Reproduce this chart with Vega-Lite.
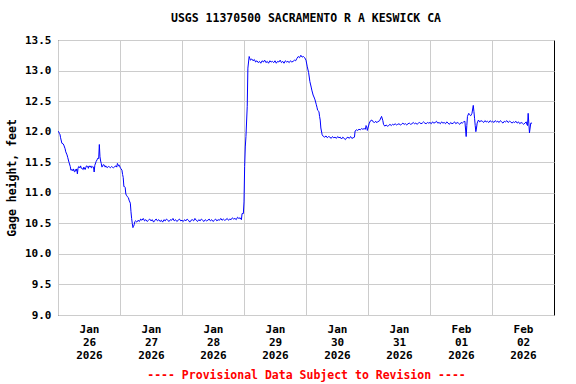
{
  "$schema": "https://vega.github.io/schema/vega-lite/v6.json",
  "width": 496,
  "height": 275,
  "autosize": "none",
  "padding": {"left": 58, "top": 40, "right": 22, "bottom": 69},
  "background": "white",
  "title": {"text": "USGS 11370500 SACRAMENTO R A KESWICK CA", "font": "DejaVu Sans Mono", "fontSize": 11.5, "fontWeight": "bold", "color": "black", "anchor": "middle", "offset": 10},
  "data": {"values": [
    {"t":"2026-01-26T00:00","v":12.01},{"t":"2026-01-26T00:15","v":12.00},{"t":"2026-01-26T00:30","v":11.97},{"t":"2026-01-26T00:45","v":11.96},
    {"t":"2026-01-26T01:00","v":11.90},{"t":"2026-01-26T01:30","v":11.81},{"t":"2026-01-26T02:00","v":11.80},{"t":"2026-01-26T02:15","v":11.78},
    {"t":"2026-01-26T02:45","v":11.72},{"t":"2026-01-26T03:00","v":11.67},{"t":"2026-01-26T03:30","v":11.62},{"t":"2026-01-26T03:45","v":11.58},
    {"t":"2026-01-26T04:15","v":11.50},{"t":"2026-01-26T04:45","v":11.43},{"t":"2026-01-26T05:00","v":11.37},{"t":"2026-01-26T05:30","v":11.38},
    {"t":"2026-01-26T05:45","v":11.36},{"t":"2026-01-26T06:00","v":11.39},{"t":"2026-01-26T06:15","v":11.35},{"t":"2026-01-26T06:30","v":11.34},
    {"t":"2026-01-26T06:45","v":11.38},{"t":"2026-01-26T07:00","v":11.36},{"t":"2026-01-26T07:15","v":11.39},{"t":"2026-01-26T07:30","v":11.31},
    {"t":"2026-01-26T07:45","v":11.40},{"t":"2026-01-26T08:00","v":11.43},{"t":"2026-01-26T08:30","v":11.41},{"t":"2026-01-26T08:45","v":11.44},
    {"t":"2026-01-26T09:00","v":11.40},{"t":"2026-01-26T09:15","v":11.40},{"t":"2026-01-26T09:45","v":11.38},{"t":"2026-01-26T10:00","v":11.42},
    {"t":"2026-01-26T10:30","v":11.38},{"t":"2026-01-26T10:45","v":11.41},{"t":"2026-01-26T11:00","v":11.44},{"t":"2026-01-26T11:30","v":11.43},
    {"t":"2026-01-26T11:45","v":11.40},{"t":"2026-01-26T12:00","v":11.44},{"t":"2026-01-26T12:30","v":11.42},{"t":"2026-01-26T12:45","v":11.44},
    {"t":"2026-01-26T13:00","v":11.41},{"t":"2026-01-26T13:30","v":11.43},{"t":"2026-01-26T13:45","v":11.42},{"t":"2026-01-26T14:00","v":11.34},
    {"t":"2026-01-26T14:15","v":11.45},{"t":"2026-01-26T14:45","v":11.51},{"t":"2026-01-26T15:15","v":11.55},{"t":"2026-01-26T15:30","v":11.57},
    {"t":"2026-01-26T15:45","v":11.56},{"t":"2026-01-26T16:00","v":11.79},{"t":"2026-01-26T16:15","v":11.59},{"t":"2026-01-26T16:30","v":11.52},
    {"t":"2026-01-26T16:45","v":11.48},{"t":"2026-01-26T17:00","v":11.42},{"t":"2026-01-26T17:15","v":11.43},{"t":"2026-01-26T17:30","v":11.46},
    {"t":"2026-01-26T18:00","v":11.45},{"t":"2026-01-26T18:15","v":11.42},{"t":"2026-01-26T18:30","v":11.44},{"t":"2026-01-26T18:45","v":11.42},
    {"t":"2026-01-26T19:00","v":11.41},{"t":"2026-01-26T19:30","v":11.43},{"t":"2026-01-26T20:00","v":11.42},{"t":"2026-01-26T20:15","v":11.41},
    {"t":"2026-01-26T20:45","v":11.43},{"t":"2026-01-26T21:00","v":11.42},{"t":"2026-01-26T21:30","v":11.41},{"t":"2026-01-26T22:00","v":11.43},
    {"t":"2026-01-26T22:30","v":11.44},{"t":"2026-01-26T22:45","v":11.42},{"t":"2026-01-26T23:00","v":11.48},{"t":"2026-01-26T23:15","v":11.46},
    {"t":"2026-01-26T23:30","v":11.44},{"t":"2026-01-26T23:45","v":11.45},
    {"t":"2026-01-27T00:00","v":11.42},{"t":"2026-01-27T00:15","v":11.40},{"t":"2026-01-27T00:45","v":11.37},{"t":"2026-01-27T01:00","v":11.30},
    {"t":"2026-01-27T01:15","v":11.25},{"t":"2026-01-27T01:30","v":11.10},{"t":"2026-01-27T01:45","v":11.10},{"t":"2026-01-27T02:00","v":11.09},
    {"t":"2026-01-27T02:15","v":10.98},{"t":"2026-01-27T02:30","v":10.96},{"t":"2026-01-27T02:45","v":10.94},{"t":"2026-01-27T03:15","v":10.92},
    {"t":"2026-01-27T03:30","v":10.88},{"t":"2026-01-27T04:00","v":10.83},{"t":"2026-01-27T04:15","v":10.69},{"t":"2026-01-27T04:30","v":10.58},
    {"t":"2026-01-27T04:45","v":10.50},{"t":"2026-01-27T05:00","v":10.43},{"t":"2026-01-27T05:15","v":10.45},{"t":"2026-01-27T05:30","v":10.48},
    {"t":"2026-01-27T05:45","v":10.53},
    {"t":"2026-01-27T06:00","v":10.54},{"t":"2026-01-27T06:30","v":10.52},{"t":"2026-01-27T07:00","v":10.55},{"t":"2026-01-27T07:30","v":10.53},
    {"t":"2026-01-27T08:00","v":10.57},{"t":"2026-01-27T08:30","v":10.55},{"t":"2026-01-27T09:00","v":10.58},{"t":"2026-01-27T09:30","v":10.54},
    {"t":"2026-01-27T10:00","v":10.56},{"t":"2026-01-27T10:30","v":10.53},{"t":"2026-01-27T11:00","v":10.55},{"t":"2026-01-27T11:30","v":10.57},
    {"t":"2026-01-27T12:00","v":10.54},{"t":"2026-01-27T12:30","v":10.56},{"t":"2026-01-27T13:00","v":10.52},{"t":"2026-01-27T13:30","v":10.55},
    {"t":"2026-01-27T14:00","v":10.57},{"t":"2026-01-27T14:30","v":10.54},{"t":"2026-01-27T15:00","v":10.56},{"t":"2026-01-27T15:30","v":10.53},
    {"t":"2026-01-27T16:00","v":10.55},{"t":"2026-01-27T16:30","v":10.52},{"t":"2026-01-27T17:00","v":10.56},{"t":"2026-01-27T17:30","v":10.54},
    {"t":"2026-01-27T18:00","v":10.57},{"t":"2026-01-27T18:30","v":10.55},{"t":"2026-01-27T19:00","v":10.53},{"t":"2026-01-27T19:30","v":10.56},
    {"t":"2026-01-27T20:00","v":10.55},{"t":"2026-01-27T20:30","v":10.58},{"t":"2026-01-27T21:00","v":10.54},{"t":"2026-01-27T21:30","v":10.56},
    {"t":"2026-01-27T22:00","v":10.53},{"t":"2026-01-27T22:30","v":10.55},{"t":"2026-01-27T23:00","v":10.57},{"t":"2026-01-27T23:30","v":10.54},
    {"t":"2026-01-28T00:00","v":10.55},{"t":"2026-01-28T00:30","v":10.53},{"t":"2026-01-28T01:00","v":10.56},{"t":"2026-01-28T01:30","v":10.54},
    {"t":"2026-01-28T02:00","v":10.57},{"t":"2026-01-28T02:30","v":10.55},{"t":"2026-01-28T03:00","v":10.52},{"t":"2026-01-28T03:30","v":10.55},
    {"t":"2026-01-28T04:00","v":10.56},{"t":"2026-01-28T04:30","v":10.54},{"t":"2026-01-28T05:00","v":10.58},{"t":"2026-01-28T05:30","v":10.55},
    {"t":"2026-01-28T06:00","v":10.53},{"t":"2026-01-28T06:30","v":10.56},{"t":"2026-01-28T07:00","v":10.54},{"t":"2026-01-28T07:30","v":10.57},
    {"t":"2026-01-28T08:00","v":10.55},{"t":"2026-01-28T08:30","v":10.53},{"t":"2026-01-28T09:00","v":10.56},{"t":"2026-01-28T09:30","v":10.54},
    {"t":"2026-01-28T10:00","v":10.55},{"t":"2026-01-28T10:30","v":10.57},{"t":"2026-01-28T11:00","v":10.54},{"t":"2026-01-28T11:30","v":10.56},
    {"t":"2026-01-28T12:00","v":10.53},{"t":"2026-01-28T12:30","v":10.55},{"t":"2026-01-28T13:00","v":10.57},{"t":"2026-01-28T13:30","v":10.54},
    {"t":"2026-01-28T14:00","v":10.56},{"t":"2026-01-28T14:30","v":10.55},{"t":"2026-01-28T15:00","v":10.58},{"t":"2026-01-28T15:30","v":10.55},
    {"t":"2026-01-28T16:00","v":10.57},{"t":"2026-01-28T16:30","v":10.55},{"t":"2026-01-28T17:00","v":10.56},{"t":"2026-01-28T17:30","v":10.58},
    {"t":"2026-01-28T18:00","v":10.55},{"t":"2026-01-28T18:30","v":10.57},{"t":"2026-01-28T19:00","v":10.56},{"t":"2026-01-28T19:30","v":10.59},
    {"t":"2026-01-28T20:00","v":10.57},{"t":"2026-01-28T20:30","v":10.58},{"t":"2026-01-28T21:00","v":10.56},{"t":"2026-01-28T21:30","v":10.60},
    {"t":"2026-01-28T22:00","v":10.58},{"t":"2026-01-28T22:30","v":10.59},{"t":"2026-01-28T23:00","v":10.56},{"t":"2026-01-28T23:15","v":10.66},
    {"t":"2026-01-28T23:45","v":10.66},
    {"t":"2026-01-29T00:00","v":10.85},{"t":"2026-01-29T00:15","v":11.43},{"t":"2026-01-29T00:30","v":11.75},{"t":"2026-01-29T00:45","v":11.92},
    {"t":"2026-01-29T01:15","v":12.41},{"t":"2026-01-29T01:30","v":13.04},{"t":"2026-01-29T02:00","v":13.23},{"t":"2026-01-29T02:15","v":13.20},
    {"t":"2026-01-29T02:30","v":13.17},{"t":"2026-01-29T03:00","v":13.19},{"t":"2026-01-29T03:30","v":13.16},{"t":"2026-01-29T04:00","v":13.18},
    {"t":"2026-01-29T04:30","v":13.14},{"t":"2026-01-29T05:00","v":13.16},{"t":"2026-01-29T05:30","v":13.13},{"t":"2026-01-29T06:00","v":13.15},
    {"t":"2026-01-29T06:30","v":13.12},{"t":"2026-01-29T07:00","v":13.16},{"t":"2026-01-29T07:30","v":13.14},{"t":"2026-01-29T08:00","v":13.17},
    {"t":"2026-01-29T08:30","v":13.13},{"t":"2026-01-29T09:00","v":13.15},{"t":"2026-01-29T09:30","v":13.12},{"t":"2026-01-29T10:00","v":13.16},
    {"t":"2026-01-29T10:30","v":13.14},{"t":"2026-01-29T11:00","v":13.15},{"t":"2026-01-29T11:30","v":13.13},{"t":"2026-01-29T12:00","v":13.16},
    {"t":"2026-01-29T12:30","v":13.12},{"t":"2026-01-29T13:00","v":13.15},{"t":"2026-01-29T13:30","v":13.14},{"t":"2026-01-29T14:00","v":13.17},
    {"t":"2026-01-29T14:30","v":13.13},{"t":"2026-01-29T15:00","v":13.15},{"t":"2026-01-29T15:30","v":13.12},{"t":"2026-01-29T16:00","v":13.16},
    {"t":"2026-01-29T16:30","v":13.14},{"t":"2026-01-29T17:00","v":13.15},{"t":"2026-01-29T17:30","v":13.13},{"t":"2026-01-29T18:00","v":13.16},
    {"t":"2026-01-29T18:30","v":13.14},{"t":"2026-01-29T19:00","v":13.15},{"t":"2026-01-29T19:30","v":13.17},{"t":"2026-01-29T20:00","v":13.16},
    {"t":"2026-01-29T20:30","v":13.20},{"t":"2026-01-29T21:00","v":13.23},{"t":"2026-01-29T21:30","v":13.21},{"t":"2026-01-29T22:00","v":13.25},
    {"t":"2026-01-29T22:30","v":13.22},{"t":"2026-01-29T23:00","v":13.23},{"t":"2026-01-29T23:30","v":13.21},
    {"t":"2026-01-30T00:00","v":13.17},{"t":"2026-01-30T00:30","v":13.06},{"t":"2026-01-30T01:00","v":12.97},{"t":"2026-01-30T01:30","v":12.82},
    {"t":"2026-01-30T02:00","v":12.73},{"t":"2026-01-30T02:15","v":12.68},{"t":"2026-01-30T02:45","v":12.60},{"t":"2026-01-30T03:15","v":12.55},
    {"t":"2026-01-30T03:30","v":12.52},{"t":"2026-01-30T04:00","v":12.44},{"t":"2026-01-30T04:15","v":12.40},{"t":"2026-01-30T04:30","v":12.35},
    {"t":"2026-01-30T05:00","v":12.33},{"t":"2026-01-30T05:15","v":12.25},{"t":"2026-01-30T05:30","v":12.19},{"t":"2026-01-30T05:45","v":12.06},
    {"t":"2026-01-30T06:15","v":11.95},{"t":"2026-01-30T06:45","v":11.92},{"t":"2026-01-30T07:15","v":11.91},{"t":"2026-01-30T07:45","v":11.93},
    {"t":"2026-01-30T08:15","v":11.90},{"t":"2026-01-30T08:45","v":11.92},{"t":"2026-01-30T09:15","v":11.91},{"t":"2026-01-30T09:45","v":11.89},
    {"t":"2026-01-30T10:15","v":11.92},{"t":"2026-01-30T10:45","v":11.90},{"t":"2026-01-30T11:15","v":11.91},{"t":"2026-01-30T11:45","v":11.89},
    {"t":"2026-01-30T12:15","v":11.92},{"t":"2026-01-30T12:45","v":11.90},{"t":"2026-01-30T13:15","v":11.91},{"t":"2026-01-30T13:45","v":11.88},
    {"t":"2026-01-30T14:15","v":11.91},{"t":"2026-01-30T14:45","v":11.89},{"t":"2026-01-30T15:15","v":11.87},{"t":"2026-01-30T15:45","v":11.90},
    {"t":"2026-01-30T16:15","v":11.91},{"t":"2026-01-30T16:45","v":11.89},{"t":"2026-01-30T17:15","v":11.92},{"t":"2026-01-30T17:45","v":11.89},
    {"t":"2026-01-30T18:15","v":11.90},{"t":"2026-01-30T18:45","v":11.91},{"t":"2026-01-30T19:00","v":12.01},{"t":"2026-01-30T19:30","v":12.03},
    {"t":"2026-01-30T20:00","v":12.02},{"t":"2026-01-30T20:30","v":12.04},{"t":"2026-01-30T21:00","v":12.03},{"t":"2026-01-30T21:30","v":12.05},
    {"t":"2026-01-30T22:00","v":12.04},{"t":"2026-01-30T22:30","v":12.05},{"t":"2026-01-30T23:00","v":12.04},{"t":"2026-01-30T23:15","v":12.10},
    {"t":"2026-01-30T23:30","v":12.08},{"t":"2026-01-30T23:45","v":12.02},
    {"t":"2026-01-31T00:00","v":12.06},{"t":"2026-01-31T00:30","v":12.14},{"t":"2026-01-31T01:00","v":12.18},{"t":"2026-01-31T01:30","v":12.19},
    {"t":"2026-01-31T02:00","v":12.16},{"t":"2026-01-31T02:30","v":12.15},{"t":"2026-01-31T03:00","v":12.17},{"t":"2026-01-31T03:15","v":12.15},
    {"t":"2026-01-31T03:45","v":12.16},{"t":"2026-01-31T04:30","v":12.18},{"t":"2026-01-31T05:15","v":12.25},{"t":"2026-01-31T05:45","v":12.18},
    {"t":"2026-01-31T06:00","v":12.12},{"t":"2026-01-31T06:30","v":12.09},{"t":"2026-01-31T07:00","v":12.11},{"t":"2026-01-31T07:30","v":12.09},
    {"t":"2026-01-31T08:00","v":12.10},{"t":"2026-01-31T08:30","v":12.12},{"t":"2026-01-31T09:00","v":12.10},{"t":"2026-01-31T09:30","v":12.12},
    {"t":"2026-01-31T10:00","v":12.11},{"t":"2026-01-31T10:30","v":12.13},{"t":"2026-01-31T11:00","v":12.11},{"t":"2026-01-31T11:30","v":12.12},
    {"t":"2026-01-31T12:00","v":12.13},{"t":"2026-01-31T12:30","v":12.11},{"t":"2026-01-31T13:00","v":12.12},{"t":"2026-01-31T13:30","v":12.14},
    {"t":"2026-01-31T14:00","v":12.12},{"t":"2026-01-31T14:30","v":12.13},{"t":"2026-01-31T15:00","v":12.11},{"t":"2026-01-31T15:30","v":12.13},
    {"t":"2026-01-31T16:00","v":12.14},{"t":"2026-01-31T16:30","v":12.12},{"t":"2026-01-31T17:00","v":12.13},{"t":"2026-01-31T17:30","v":12.15},
    {"t":"2026-01-31T18:00","v":12.13},{"t":"2026-01-31T18:30","v":12.14},{"t":"2026-01-31T19:00","v":12.12},{"t":"2026-01-31T19:30","v":12.14},
    {"t":"2026-01-31T20:00","v":12.15},{"t":"2026-01-31T20:30","v":12.13},{"t":"2026-01-31T21:00","v":12.14},{"t":"2026-01-31T21:30","v":12.16},
    {"t":"2026-01-31T22:00","v":12.14},{"t":"2026-01-31T22:30","v":12.13},{"t":"2026-01-31T23:00","v":12.15},{"t":"2026-01-31T23:30","v":12.14},
    {"t":"2026-02-01T00:00","v":12.15},{"t":"2026-02-01T00:30","v":12.13},{"t":"2026-02-01T01:00","v":12.16},{"t":"2026-02-01T01:30","v":12.14},
    {"t":"2026-02-01T02:00","v":12.15},{"t":"2026-02-01T02:30","v":12.17},{"t":"2026-02-01T03:00","v":12.14},{"t":"2026-02-01T03:30","v":12.15},
    {"t":"2026-02-01T04:00","v":12.13},{"t":"2026-02-01T04:30","v":12.16},{"t":"2026-02-01T05:00","v":12.14},{"t":"2026-02-01T05:30","v":12.15},
    {"t":"2026-02-01T06:00","v":12.13},{"t":"2026-02-01T06:30","v":12.16},{"t":"2026-02-01T07:00","v":12.14},{"t":"2026-02-01T07:30","v":12.12},
    {"t":"2026-02-01T08:00","v":12.15},{"t":"2026-02-01T08:30","v":12.13},{"t":"2026-02-01T09:00","v":12.14},{"t":"2026-02-01T09:30","v":12.16},
    {"t":"2026-02-01T10:00","v":12.13},{"t":"2026-02-01T10:30","v":12.15},{"t":"2026-02-01T11:00","v":12.14},{"t":"2026-02-01T11:30","v":12.12},
    {"t":"2026-02-01T12:00","v":12.15},{"t":"2026-02-01T12:30","v":12.14},{"t":"2026-02-01T13:00","v":12.16},{"t":"2026-02-01T13:30","v":12.17},
    {"t":"2026-02-01T14:00","v":11.92},{"t":"2026-02-01T14:15","v":12.10},{"t":"2026-02-01T14:30","v":12.25},{"t":"2026-02-01T15:00","v":12.30},
    {"t":"2026-02-01T15:15","v":12.28},{"t":"2026-02-01T15:45","v":12.26},{"t":"2026-02-01T16:15","v":12.30},{"t":"2026-02-01T16:45","v":12.43},
    {"t":"2026-02-01T17:00","v":12.33},{"t":"2026-02-01T17:15","v":12.22},{"t":"2026-02-01T17:30","v":12.10},{"t":"2026-02-01T17:45","v":12.00},
    {"t":"2026-02-01T18:00","v":12.06},{"t":"2026-02-01T18:15","v":12.14},{"t":"2026-02-01T18:45","v":12.19},{"t":"2026-02-01T19:15","v":12.16},
    {"t":"2026-02-01T19:45","v":12.18},{"t":"2026-02-01T20:15","v":12.17},{"t":"2026-02-01T20:45","v":12.15},{"t":"2026-02-01T21:15","v":12.18},
    {"t":"2026-02-01T21:45","v":12.16},{"t":"2026-02-01T22:15","v":12.17},{"t":"2026-02-01T22:45","v":12.15},{"t":"2026-02-01T23:15","v":12.18},
    {"t":"2026-02-01T23:45","v":12.16},
    {"t":"2026-02-02T00:15","v":12.17},{"t":"2026-02-02T00:45","v":12.15},{"t":"2026-02-02T01:15","v":12.18},{"t":"2026-02-02T01:45","v":12.16},
    {"t":"2026-02-02T02:15","v":12.17},{"t":"2026-02-02T02:45","v":12.15},{"t":"2026-02-02T03:15","v":12.18},{"t":"2026-02-02T03:45","v":12.16},
    {"t":"2026-02-02T04:15","v":12.14},{"t":"2026-02-02T04:45","v":12.17},{"t":"2026-02-02T05:15","v":12.16},{"t":"2026-02-02T05:45","v":12.18},
    {"t":"2026-02-02T06:15","v":12.15},{"t":"2026-02-02T06:45","v":12.17},{"t":"2026-02-02T07:15","v":12.16},{"t":"2026-02-02T07:45","v":12.14},
    {"t":"2026-02-02T08:15","v":12.16},{"t":"2026-02-02T08:45","v":12.15},{"t":"2026-02-02T09:15","v":12.17},{"t":"2026-02-02T09:45","v":12.14},
    {"t":"2026-02-02T10:15","v":12.16},{"t":"2026-02-02T10:45","v":12.13},{"t":"2026-02-02T11:15","v":12.15},{"t":"2026-02-02T11:45","v":12.14},
    {"t":"2026-02-02T12:15","v":12.12},{"t":"2026-02-02T12:45","v":12.14},{"t":"2026-02-02T13:15","v":12.16},{"t":"2026-02-02T13:30","v":12.12},
    {"t":"2026-02-02T13:45","v":12.10},{"t":"2026-02-02T14:00","v":12.30},{"t":"2026-02-02T14:15","v":12.14},{"t":"2026-02-02T14:30","v":11.98},
    {"t":"2026-02-02T14:45","v":12.06},{"t":"2026-02-02T15:00","v":12.14},{"t":"2026-02-02T15:30","v":12.14}
  ]},
  "mark": {"type": "line", "color": "#0000ff", "strokeWidth": 1, "clip": true},
  "encoding": {
    "x": {
      "field": "t", "type": "temporal",
      "scale": {"domain": [{"year": 2026, "month": 1, "date": 26}, {"year": 2026, "month": 2, "date": 3}]},
      "axis": {
        "values": [
          {"year": 2026, "month": 1, "date": 26}, {"year": 2026, "month": 1, "date": 27},
          {"year": 2026, "month": 1, "date": 28}, {"year": 2026, "month": 1, "date": 29},
          {"year": 2026, "month": 1, "date": 30}, {"year": 2026, "month": 1, "date": 31},
          {"year": 2026, "month": 2, "date": 1}, {"year": 2026, "month": 2, "date": 2}
        ],
        "labelExpr": "[timeFormat(datum.value, '%b'), timeFormat(datum.value, '%d'), timeFormat(datum.value, '%Y')]",
        "labelOffset": 31,
        "labelPadding": 8,
        "labelAlign": "center",
        "labelBaseline": "top",
        "labelLineHeight": 13,
        "labelFlush": false,
        "labelOverlap": false,
        "labelBound": false,
        "ticks": false,
        "domain": false,
        "grid": true,
        "title": "---- Provisional Data Subject to Revision ----",
        "titleColor": "#ff0000",
        "titlePadding": 9
      }
    },
    "y": {
      "field": "v", "type": "quantitative",
      "scale": {"domain": [9, 13.5], "nice": false, "zero": false},
      "axis": {
        "values": [9, 9.5, 10, 10.5, 11, 11.5, 12, 12.5, 13, 13.5],
        "format": ".1f",
        "labelPadding": 7,
        "ticks": false,
        "domain": false,
        "grid": true,
        "title": "Gage height, feet",
        "titlePadding": 7
      }
    }
  },
  "config": {
    "view": {"stroke": "#000000", "strokeWidth": 1},
    "axis": {
      "labelFont": "DejaVu Sans Mono", "labelFontSize": 11, "labelFontWeight": "bold", "labelColor": "#000000",
      "titleFont": "DejaVu Sans Mono", "titleFontSize": 11.5, "titleFontWeight": "bold", "titleColor": "#000000",
      "gridColor": "#cccccc", "gridWidth": 1, "gridOpacity": 1
    }
  }
}
